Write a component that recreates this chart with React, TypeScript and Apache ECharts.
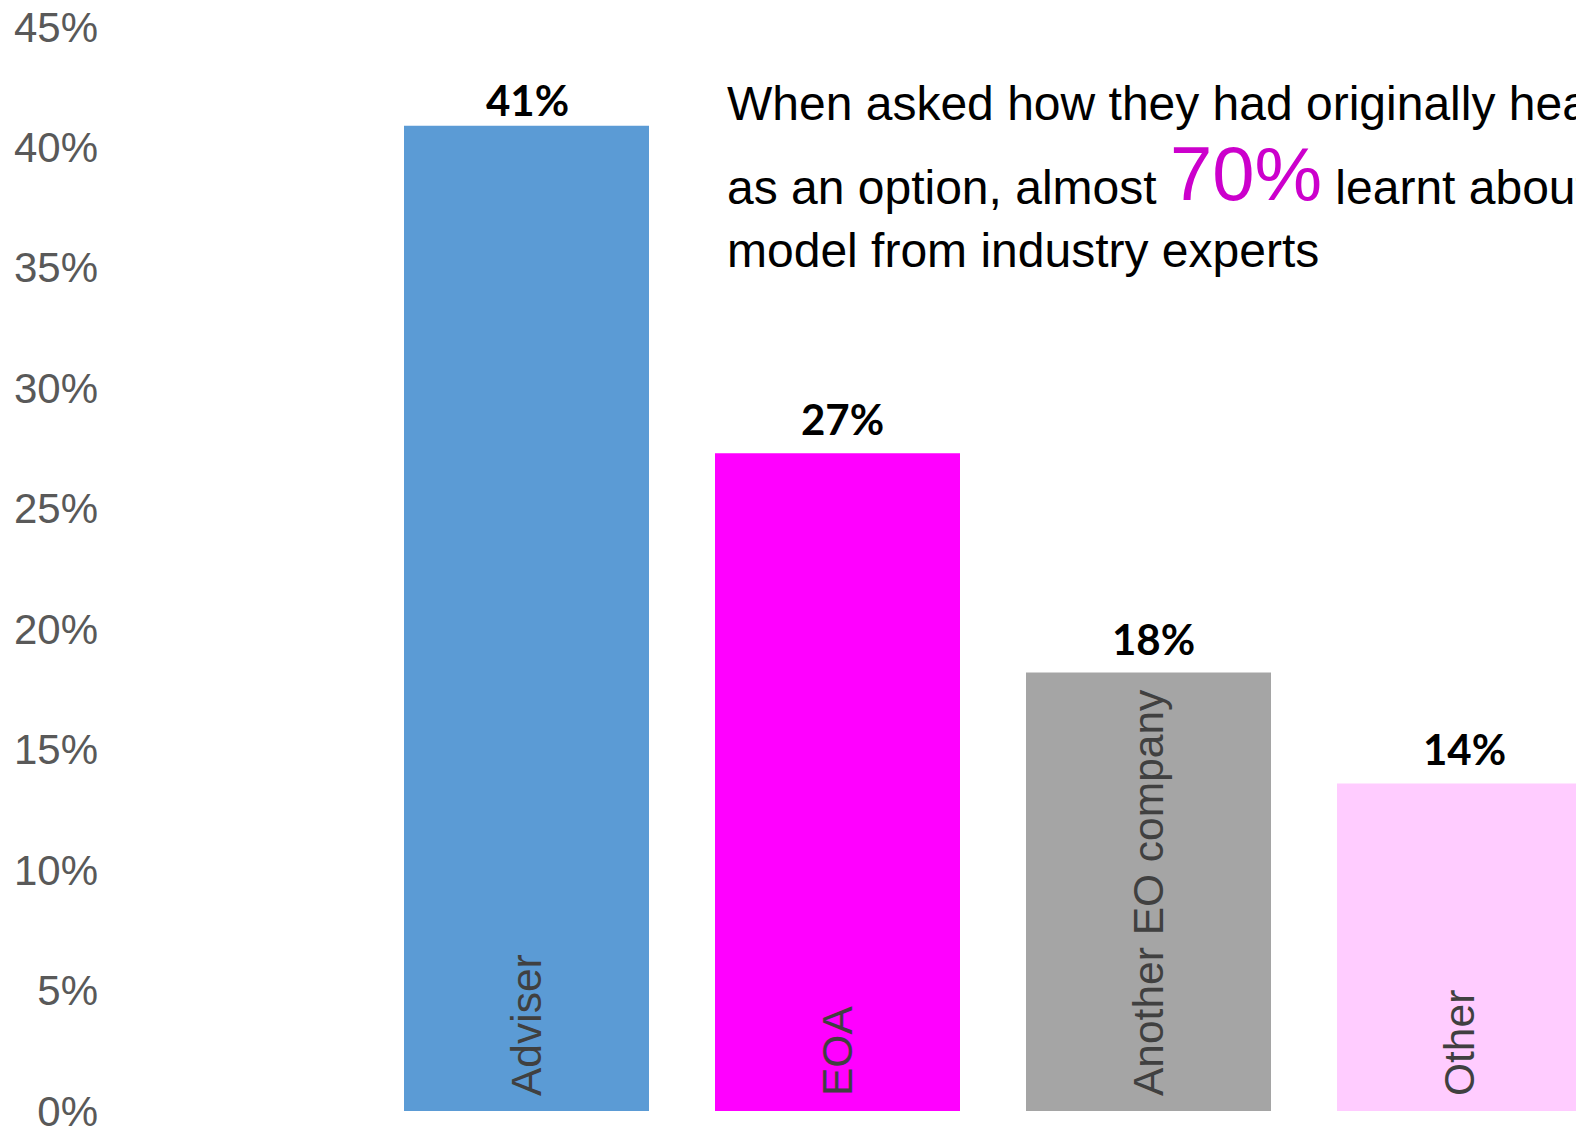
import React, { useEffect, useRef } from "react";
import * as echarts from "echarts";

const categories = ["Adviser", "EOA", "Another EO company", "Other"];
const values = [40.9, 27.3, 18.2, 13.6];
const valueLabels = ["41%", "27%", "18%", "14%"];
const barColors = ["#5B9BD5", "#FF00FF", "#A5A5A5", "#FFCCFF"];
const yMin = 0;
const yMax = 45;
const yInterval = 5;
const headline1 = "When asked how they had originally heard of employee ownership";
const headline2a = "as an option, almost ";
const headline2b = "70%";
const headline2c = " learnt about the";
const headline3 = "model from industry experts";

const SANS = "'Liberation Sans', Arial, sans-serif";

export default function App() {
  const ref = useRef<HTMLDivElement>(null);
  useEffect(() => {
    document.body.style.margin = "0";
    document.body.style.overflow = "hidden";
    const chart = echarts.init(ref.current!, undefined, { renderer: "svg" });
    chart.setOption({
      animation: false,
      backgroundColor: "#ffffff",
      grid: { left: 371, right: 25, top: 27, bottom: 19, containLabel: false, outerBoundsMode: "none" },
      xAxis: {
        type: "category",
        data: categories,
        z: 10,
        axisLine: { show: false },
        axisTick: { show: false },
        axisLabel: {
          inside: true,
          rotate: 90,
          margin: 15,
          fontSize: 42.5,
          fontFamily: SANS,
          color: "#404040",
        },
      },
      yAxis: {
        type: "value",
        min: yMin,
        max: yMax,
        interval: yInterval,
        splitLine: { show: false },
        axisLine: { show: false },
        axisTick: { show: false },
        axisLabel: {
          formatter: "{value}%",
          margin: 273,
          fontSize: 42,
          fontFamily: SANS,
          color: "#595959",
        },
      },
      series: [
        {
          type: "bar",
          barWidth: 245,
          data: values.map((v, i) => ({
            value: v,
            itemStyle: { color: barColors[i] },
            label: i === 0 ? { distance: 5, offset: [1, 0] } : { distance: 13, offset: [5, 0] },
          })),
          label: {
            show: true,
            position: "top",
            formatter: (p: any) => valueLabels[p.dataIndex],
            fontFamily: "Lato, sans-serif",
            fontWeight: "bold",
            fontSize: 42,
            color: "#000000",
          },
        },
      ],
      graphic: [
        {
          type: "text",
          x: 727,
          y: 103,
          style: {
            text: headline1,
            fontSize: 48,
            fontFamily: SANS,
            fill: "#000000",
            verticalAlign: "middle",
          },
        },
        {
          type: "text",
          x: 727,
          y: 143,
          style: {
            text: `{a|${headline2a}}{b|${headline2b}}{a|${headline2c}}`,
            verticalAlign: "top",
            rich: {
              a: { fontSize: 48, fontFamily: SANS, fill: "#000000", lineHeight: 48, verticalAlign: "bottom" },
              b: { fontSize: 76, fontFamily: SANS, fill: "#CC00CC", lineHeight: 68, verticalAlign: "bottom" },
            },
          },
        },
        {
          type: "text",
          x: 727,
          y: 250,
          style: {
            text: headline3,
            fontSize: 48,
            fontFamily: SANS,
            fill: "#000000",
            verticalAlign: "middle",
          },
        },
      ],
    });
    return () => chart.dispose();
  }, []);
  return <div ref={ref} style={{ width: 1640, height: 1130 }} />;
}
